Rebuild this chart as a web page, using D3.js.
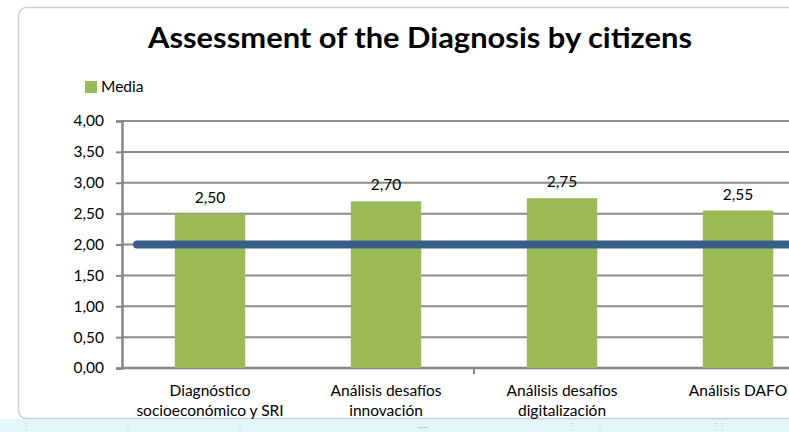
<!DOCTYPE html>
<html>
<head>
<meta charset="utf-8">
<script src="https://cdn.jsdelivr.net/npm/d3@7"></script>
<style>
  body { margin: 0; background: #fff; }
  svg { display: block; font-family: Lato, "Noto Sans", sans-serif; }
</style>
</head>
<body>
<div id="chart"></div>
<script>
// data
const categories = [
  ["Diagnóstico", "socioeconómico y SRI"],
  ["Análisis desafíos", "innovación"],
  ["Análisis desafíos", "digitalización"],
  ["Análisis DAFO"]
];
const media = [2.50, 2.70, 2.75, 2.55];
const threshold = [2.00];
const yTicks = [0, 0.5, 1, 1.5, 2, 2.5, 3, 3.5, 4];

const W = 789, H = 432;
// plot area (runs past the right edge like the original crop)
const margin = { top: 121, left: 122, bottom: 368 };
const bandW = 176;
const fs = 15.5;

const svg = d3.select("#chart").append("svg")
  .attr("width", W).attr("height", H);

// spreadsheet strip under the chart
svg.append("rect").attr("x", 0).attr("y", 419).attr("width", W).attr("height", 13).attr("fill", "#e3f6fa");
[26, 128, 240, 572, 600, 716, 722].forEach(x => {
  svg.append("line").attr("x1", x).attr("x2", x).attr("y1", 423).attr("y2", 432)
    .attr("stroke", "#b9c7cc").attr("stroke-width", 1).attr("stroke-dasharray", "1,2");
});
svg.append("text").attr("x", 423).attr("y", 430).attr("text-anchor", "middle")
  .attr("font-size", 10).attr("fill", "#9aa").text("····");

// chart frame
svg.append("rect")
  .attr("x", 18.5).attr("y", 7.5).attr("width", 820).attr("height", 411)
  .attr("rx", 8).attr("fill", "#fff").attr("stroke", "#c8d0da").attr("stroke-width", 1.5);

const x = d3.scaleBand()
  .domain(d3.range(categories.length))
  .range([margin.left, margin.left + bandW * categories.length])
  .paddingInner(0.6).paddingOuter(0.3);

const y = d3.scaleLinear().domain([0, 4]).range([margin.bottom, margin.top]);

// gridlines
svg.append("g")
  .selectAll("line")
  .data(yTicks.filter(d => d > 0))
  .join("line")
    .attr("x1", margin.left).attr("x2", W)
    .attr("y1", d => y(d)).attr("y2", d => y(d))
    .attr("stroke", "#8c8c8c").attr("stroke-width", 2);

// y axis
const yAxis = svg.append("g")
  .attr("transform", `translate(${margin.left},0)`)
  .call(d3.axisLeft(y).tickValues(yTicks).tickSize(6).tickPadding(12)
    .tickFormat(d => d3.format(".2f")(d).replace(".", ",")));
yAxis.select(".domain").attr("stroke", "#868686").attr("stroke-width", 2.5);
yAxis.selectAll(".tick line").attr("stroke", "#868686").attr("stroke-width", 2);
yAxis.selectAll("text").attr("font-size", fs).attr("fill", "#000")
  .attr("font-family", "Lato, sans-serif");

// x axis line + tick marks every second category
svg.append("line")
  .attr("x1", margin.left).attr("x2", W)
  .attr("y1", y(0)).attr("y2", y(0))
  .attr("stroke", "#868686").attr("stroke-width", 2.5);
svg.append("g").selectAll("line")
  .data([2])
  .join("line")
    .attr("x1", d => margin.left + bandW * d).attr("x2", d => margin.left + bandW * d)
    .attr("y1", y(0)).attr("y2", y(0) + 6)
    .attr("stroke", "#868686").attr("stroke-width", 2);

// bars
svg.append("g").selectAll("rect")
  .data(media)
  .join("rect")
    .attr("x", (d, i) => x(i))
    .attr("width", x.bandwidth())
    .attr("y", d => y(d))
    .attr("height", d => y(0) - y(d))
    .attr("fill", "#9bbb59");

// value labels
svg.append("g").selectAll("text")
  .data(media)
  .join("text")
    .attr("x", (d, i) => x(i) + x.bandwidth() / 2)
    .attr("y", d => y(d) - 11)
    .attr("text-anchor", "middle")
    .attr("font-size", fs)
    .text(d => d3.format(".2f")(d).replace(".", ","));

// threshold line
const line = d3.line().x(d => d[0]).y(d => y(d[1]));
svg.append("path")
  .datum([[137, threshold[0]], [W + 10, threshold[0]]])
  .attr("fill", "none")
  .attr("stroke", "#3a5e8a")
  .attr("stroke-width", 8)
  .attr("stroke-linecap", "round")
  .attr("d", line);

// category labels
const cat = svg.append("g").selectAll("text")
  .data(categories)
  .join("text")
    .attr("x", (d, i) => x(i) + x.bandwidth() / 2)
    .attr("y", 396)
    .attr("text-anchor", "middle")
    .attr("font-size", fs);
cat.selectAll("tspan")
  .data(d => d)
  .join("tspan")
    .attr("x", function () { return this.parentNode.getAttribute("x"); })
    .attr("dy", (d, i) => i === 0 ? 0 : 20)
    .text(d => d);

// title
svg.append("text")
  .attr("x", 420).attr("y", 48)
  .attr("text-anchor", "middle")
  .attr("font-size", 28).attr("font-weight", "bold")
  .attr("textLength", 544).attr("lengthAdjust", "spacingAndGlyphs")
  .text("Assessment of the Diagnosis by citizens");

// legend
svg.append("rect").attr("x", 85).attr("y", 81).attr("width", 12).attr("height", 12).attr("fill", "#9bbb59");
svg.append("text").attr("x", 101).attr("y", 92).attr("font-size", fs).text("Media");
</script>
</body>
</html>
